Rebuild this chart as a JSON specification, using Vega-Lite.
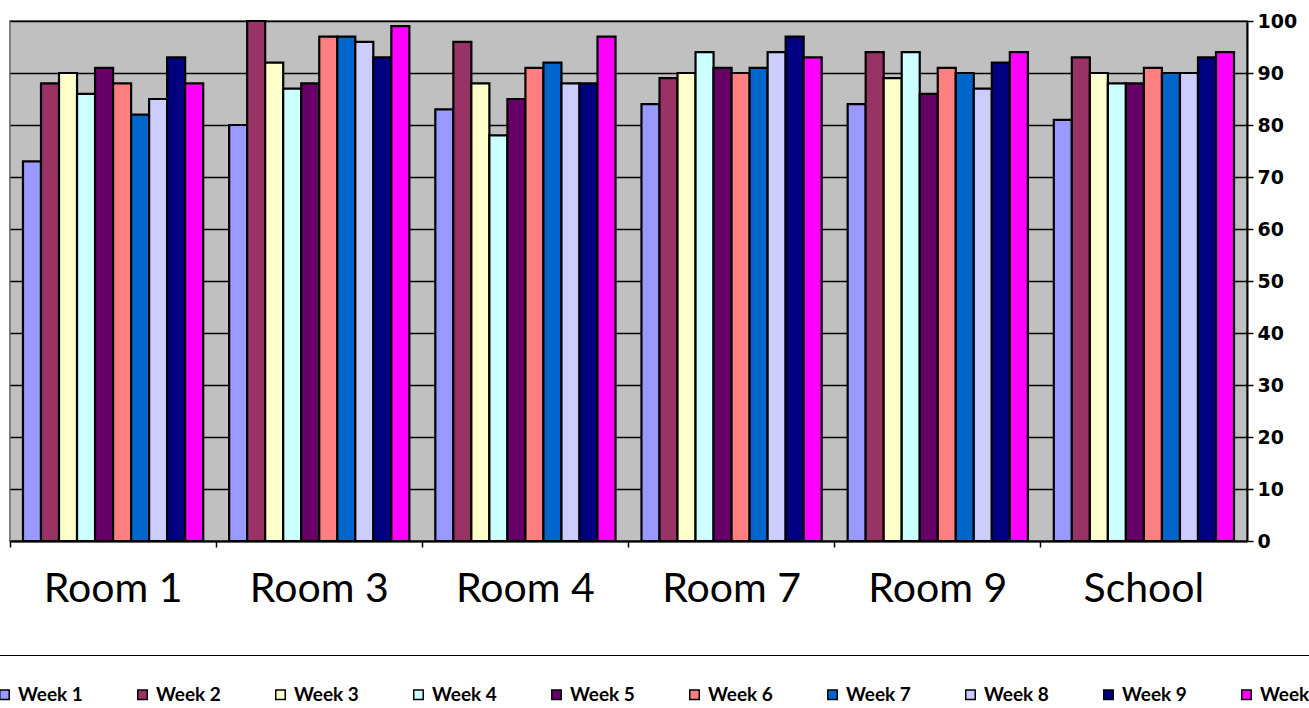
{
  "$schema": "https://vega.github.io/schema/vega-lite/v6.json",
  "width": 1237,
  "height": 520,
  "autosize": {"type": "none"},
  "padding": {"left": 10, "top": 21, "right": 62, "bottom": 167},
  "background": "white",
  "config": {
    "view": {"fill": "#C0C0C0", "stroke": "#808080", "strokeWidth": 2}
  },
  "data": {
    "values": [
      {"room": "Room 1", "week": "Week 1", "value": 73},
      {"room": "Room 1", "week": "Week 2", "value": 88},
      {"room": "Room 1", "week": "Week 3", "value": 90},
      {"room": "Room 1", "week": "Week 4", "value": 86},
      {"room": "Room 1", "week": "Week 5", "value": 91},
      {"room": "Room 1", "week": "Week 6", "value": 88},
      {"room": "Room 1", "week": "Week 7", "value": 82},
      {"room": "Room 1", "week": "Week 8", "value": 85},
      {"room": "Room 1", "week": "Week 9", "value": 93},
      {"room": "Room 1", "week": "Week 10", "value": 88},
      {"room": "Room 3", "week": "Week 1", "value": 80},
      {"room": "Room 3", "week": "Week 2", "value": 100},
      {"room": "Room 3", "week": "Week 3", "value": 92},
      {"room": "Room 3", "week": "Week 4", "value": 87},
      {"room": "Room 3", "week": "Week 5", "value": 88},
      {"room": "Room 3", "week": "Week 6", "value": 97},
      {"room": "Room 3", "week": "Week 7", "value": 97},
      {"room": "Room 3", "week": "Week 8", "value": 96},
      {"room": "Room 3", "week": "Week 9", "value": 93},
      {"room": "Room 3", "week": "Week 10", "value": 99},
      {"room": "Room 4", "week": "Week 1", "value": 83},
      {"room": "Room 4", "week": "Week 2", "value": 96},
      {"room": "Room 4", "week": "Week 3", "value": 88},
      {"room": "Room 4", "week": "Week 4", "value": 78},
      {"room": "Room 4", "week": "Week 5", "value": 85},
      {"room": "Room 4", "week": "Week 6", "value": 91},
      {"room": "Room 4", "week": "Week 7", "value": 92},
      {"room": "Room 4", "week": "Week 8", "value": 88},
      {"room": "Room 4", "week": "Week 9", "value": 88},
      {"room": "Room 4", "week": "Week 10", "value": 97},
      {"room": "Room 7", "week": "Week 1", "value": 84},
      {"room": "Room 7", "week": "Week 2", "value": 89},
      {"room": "Room 7", "week": "Week 3", "value": 90},
      {"room": "Room 7", "week": "Week 4", "value": 94},
      {"room": "Room 7", "week": "Week 5", "value": 91},
      {"room": "Room 7", "week": "Week 6", "value": 90},
      {"room": "Room 7", "week": "Week 7", "value": 91},
      {"room": "Room 7", "week": "Week 8", "value": 94},
      {"room": "Room 7", "week": "Week 9", "value": 97},
      {"room": "Room 7", "week": "Week 10", "value": 93},
      {"room": "Room 9", "week": "Week 1", "value": 84},
      {"room": "Room 9", "week": "Week 2", "value": 94},
      {"room": "Room 9", "week": "Week 3", "value": 89},
      {"room": "Room 9", "week": "Week 4", "value": 94},
      {"room": "Room 9", "week": "Week 5", "value": 86},
      {"room": "Room 9", "week": "Week 6", "value": 91},
      {"room": "Room 9", "week": "Week 7", "value": 90},
      {"room": "Room 9", "week": "Week 8", "value": 87},
      {"room": "Room 9", "week": "Week 9", "value": 92},
      {"room": "Room 9", "week": "Week 10", "value": 94},
      {"room": "School", "week": "Week 1", "value": 81},
      {"room": "School", "week": "Week 2", "value": 93},
      {"room": "School", "week": "Week 3", "value": 90},
      {"room": "School", "week": "Week 4", "value": 88},
      {"room": "School", "week": "Week 5", "value": 88},
      {"room": "School", "week": "Week 6", "value": 91},
      {"room": "School", "week": "Week 7", "value": 90},
      {"room": "School", "week": "Week 8", "value": 90},
      {"room": "School", "week": "Week 9", "value": 93},
      {"room": "School", "week": "Week 10", "value": 94}
    ]
  },
  "mark": {"type": "bar", "stroke": "black", "strokeWidth": 2.2},
  "encoding": {
    "x": {
      "field": "room",
      "type": "nominal",
      "scale": {"paddingInner": 0, "paddingOuter": 0},
      "axis": {
        "title": null,
        "labelAngle": 0,
        "labelFont": "Lato",
        "labelFontSize": 41,
        "labelColor": "black",
        "labelPadding": 22,
        "domainColor": "black",
        "domainWidth": 2,
        "tickColor": "black",
        "tickWidth": 1.5,
        "tickSize": 6,
        "bandPosition": 0,
        "grid": false
      }
    },
    "xOffset": {
      "field": "week",
      "type": "nominal",
      "sort": ["Week 1", "Week 2", "Week 3", "Week 4", "Week 5", "Week 6", "Week 7", "Week 8", "Week 9", "Week 10"],
      "scale": {"paddingInner": 0, "paddingOuter": 0.72}
    },
    "y": {
      "field": "value",
      "type": "quantitative",
      "scale": {"domain": [0, 100], "nice": false},
      "axis": {
        "title": null,
        "orient": "right",
        "values": [0, 10, 20, 30, 40, 50, 60, 70, 80, 90, 100],
        "grid": true,
        "gridColor": "black",
        "gridWidth": 1.5,
        "gridOpacity": 1,
        "domainColor": "black",
        "domainWidth": 2,
        "tickColor": "black",
        "tickWidth": 1.5,
        "tickSize": 6,
        "labelFont": "DejaVu Sans",
        "labelFontWeight": "bold",
        "labelFontSize": 19,
        "labelColor": "black",
        "labelPadding": 4
      }
    },
    "color": {
      "field": "week",
      "type": "nominal",
      "sort": ["Week 1", "Week 2", "Week 3", "Week 4", "Week 5", "Week 6", "Week 7", "Week 8", "Week 9", "Week 10"],
      "scale": {
        "domain": ["Week 1", "Week 2", "Week 3", "Week 4", "Week 5", "Week 6", "Week 7", "Week 8", "Week 9", "Week 10"],
        "range": ["#9999FF", "#993366", "#FFFFCC", "#CCFFFF", "#660066", "#FF8080", "#0066CC", "#CCCCFF", "#000080", "#FF00FF"]
      },
      "legend": {
        "title": null,
        "orient": "none",
        "direction": "horizontal",
        "columns": 10,
        "legendX": -45,
        "legendY": 634,
        "padding": 30,
        "strokeColor": "black",
        "fillColor": "white",
        "gridAlign": "all",
        "columnPadding": 39,
        "symbolType": "square",
        "symbolSize": 90,
        "symbolStrokeColor": "black",
        "symbolStrokeWidth": 1.5,
        "symbolOpacity": 1,
        "symbolOffset": 0,
        "labelOffset": 4,
        "labelFont": "Lato",
        "labelFontWeight": "bold",
        "labelFontSize": 19,
        "labelColor": "black",
        "labelLimit": 0
      }
    }
  }
}
